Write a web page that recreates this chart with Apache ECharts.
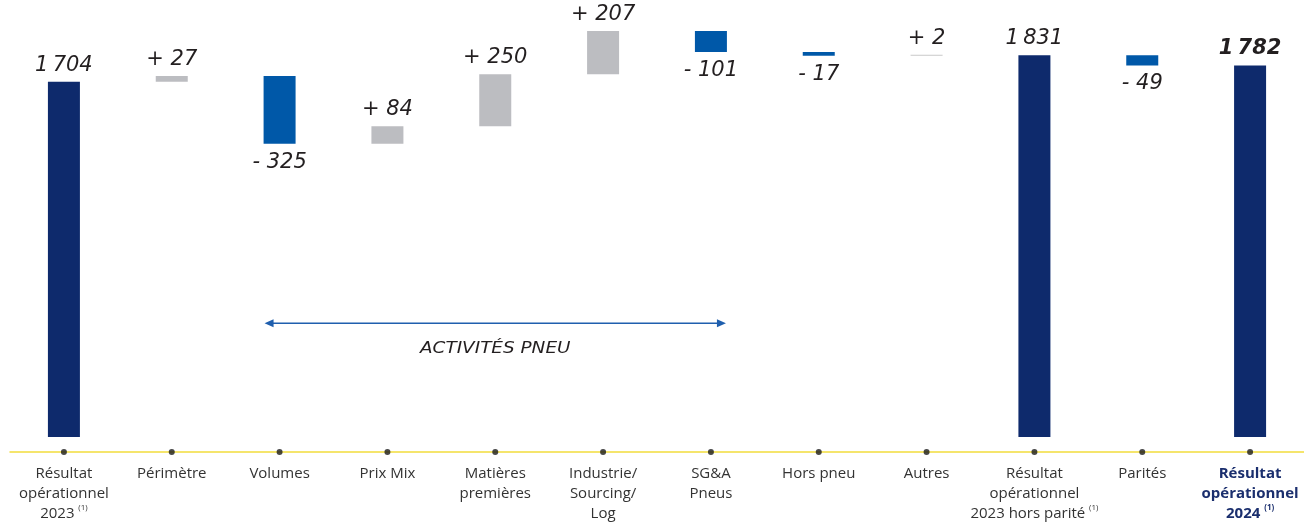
<!DOCTYPE html>
<html><head><meta charset="utf-8">
<script src="https://cdn.jsdelivr.net/npm/echarts@6/dist/echarts.min.js"></script>
<style>html,body{margin:0;padding:0;background:#fff}#c{width:1304px;height:524px}</style>
</head><body><div id="c"></div>
<script>
const categories = ['Résultat\nopérationnel\n2023', 'Périmètre', 'Volumes', 'Prix Mix', 'Matières\npremières', 'Industrie/\nSourcing/\nLog', 'SG&A\nPneus', 'Hors pneu', 'Autres', 'Résultat\nopérationnel\n2023 hors parité', 'Parités', 'Résultat\nopérationnel\n2024'];
const footnotes = [true, false, false, false, false, false, false, false, false, true, false, true];
const values = [1704, 27, -325, 84, 250, 207, -101, -17, 2, 1831, -49, 1782];
const kinds = ['total', 'delta', 'delta', 'delta', 'delta', 'delta', 'delta', 'delta', 'delta', 'total', 'delta', 'total'];
const annotationFrom = 'Volumes', annotationTo = 'SG&A\nPneus', annotationText = 'ACTIVITÉS PNEU';

const NAVY = '#0e2a6c', BLUE = '#0058a8', GRAY = '#bcbdc1';
const Y_MIN = -72, Y_MAX = 2000;

// waterfall table
let running = 0;
const bases = [], items = [];
values.forEach((v, i) => {
  const last = i === values.length - 1;
  let base, h, color, pos, txt;
  if (kinds[i] === 'total') {
    base = 0; h = v; running = v; color = NAVY; pos = 'top';
    txt = String(v).replace(/\B(?=(\d{3})+(?!\d))/g, '\u2009');
  } else if (v >= 0) {
    base = running; h = v; running += v; color = Math.abs(v) < 5 ? '#c9c9c9' : GRAY; pos = 'top';
    txt = '+ ' + v;
  } else {
    base = running + v; h = -v; running += v; color = BLUE; pos = 'bottom';
    txt = '- ' + (-v);
  }
  bases.push(base);
  items.push({
    value: h,
    itemStyle: { color },
    label: { show: true, position: pos, distance: pos === 'top' ? 6 : 8, formatter: txt, fontWeight: last ? 'bold' : 'normal' }
  });
});

function fmtCat(val, idx) {
  const lines = val.split('\n');
  const bold = idx === categories.length - 1;
  const t = bold ? 'b' : 'n', s = bold ? 'bs' : 's';
  return lines.map((l, k) => {
    if (k === lines.length - 1 && footnotes[idx]) return '{' + t + '|' + l + ' }{' + s + '|(1)}';
    return '{' + t + '|' + l + '}';
  }).join('\n');
}

const chart = echarts.init(document.getElementById('c'));
chart.setOption({
  animation: false,
  grid: { left: 10, right: -2, top: 20, bottom: 72, containLabel: false },
  xAxis: {
    type: 'category', data: categories,
    axisLine: { show: true, onZero: false, lineStyle: { color: '#f2dd3c', width: 1.5 } },
    axisTick: { show: false },
    axisLabel: {
      interval: 0, margin: 12, formatter: fmtCat,
      rich: {
        n: { fontFamily: 'Open Sans', fontSize: 15, color: '#333333', lineHeight: 20 },
        s: { fontFamily: 'Open Sans', fontSize: 8, color: '#333333', lineHeight: 20, verticalAlign: 'top', padding: [0, 0, 6, 0] },
        b: { fontFamily: 'Open Sans', fontSize: 15, fontWeight: 'bold', color: '#1b2f6e', lineHeight: 20 },
        bs: { fontFamily: 'Open Sans', fontSize: 8, fontWeight: 'bold', color: '#1b2f6e', lineHeight: 20, verticalAlign: 'top', padding: [0, 0, 6, 0] }
      }
    }
  },
  yAxis: { type: 'value', min: Y_MIN, max: Y_MAX, show: false, splitLine: { show: false } },
  series: [
    { type: 'bar', stack: 'w', barWidth: 32, data: bases, itemStyle: { color: 'transparent' }, silent: true },
    {
      type: 'bar', stack: 'w', barWidth: 32, barMinHeight: 1, data: items,
      label: { fontFamily: 'DejaVu Sans', fontStyle: 'italic', fontSize: 21, color: '#231f20' }
    },
    {
      type: 'scatter', symbolSize: 6, clip: false, z: 10,
      itemStyle: { color: '#1a1a1a' },
      data: categories.map((c, i) => [i, Y_MIN])
    }
  ]
});

const xa = chart.convertToPixel({ xAxisIndex: 0 }, annotationFrom) - 15;
const xb = chart.convertToPixel({ xAxisIndex: 0 }, annotationTo) + 15;
const ya = chart.convertToPixel({ yAxisIndex: 0 }, 546);
const AC = '#1f5fae';
chart.setOption({
  graphic: [
    { type: 'line', shape: { x1: xa + 6, y1: ya, x2: xb - 6, y2: ya }, style: { stroke: AC, lineWidth: 1.5 } },
    { type: 'polygon', shape: { points: [[xa, ya], [xa + 9, ya - 4], [xa + 9, ya + 4]] }, style: { fill: AC } },
    { type: 'polygon', shape: { points: [[xb, ya], [xb - 9, ya - 4], [xb - 9, ya + 4]] }, style: { fill: AC } },
    { type: 'text', x: (xa + xb) / 2, y: ya + 26, scaleX: 1.15, style: { text: annotationText, font: 'italic 16px "DejaVu Sans"', fill: '#231f20', align: 'center', verticalAlign: 'middle' } }
  ]
});
</script></body></html>
